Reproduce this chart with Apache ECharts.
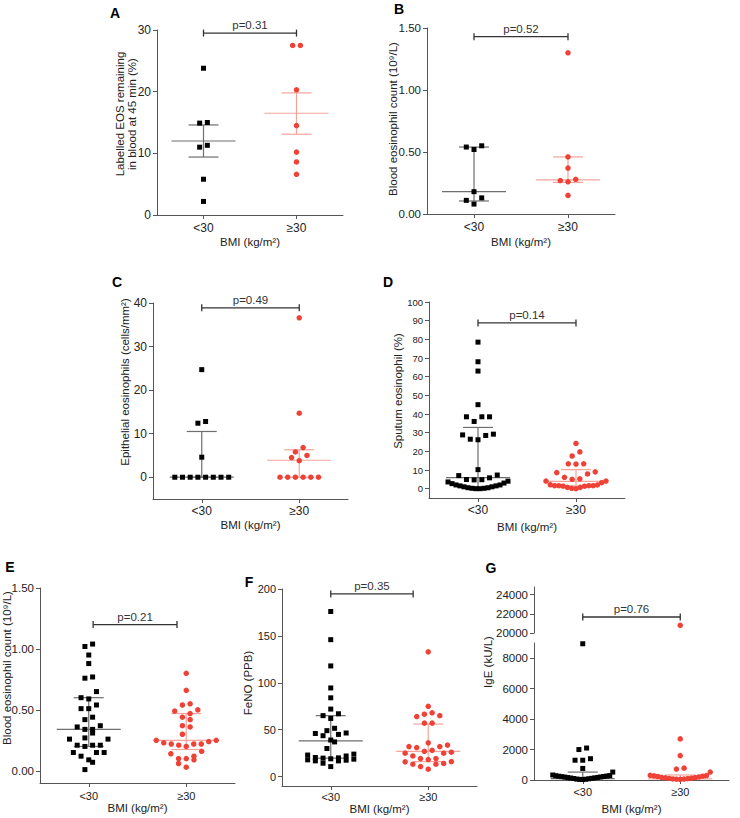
<!DOCTYPE html>
<html><head><meta charset="utf-8">
<script src="https://cdn.jsdelivr.net/npm/echarts@6/dist/echarts.min.js"></script>
<style>html,body{margin:0;padding:0;background:#fff}#c{width:740px;height:818px}</style>
</head><body><div id="c"></div>
<script>
// ---------------- DATA ----------------
const groups = ['<30', '≥30'];
const bmiTitle = 'BMI (kg/m²)';

// A
const aTitle = 'Labelled EOS remaining\nin blood at 45 min (%)';
const aTicks = [0, 10, 20, 30];
const aLow = [23.8, 15.0, 14.9, 11.3, 11.0, 5.8, 2.2];
const aHigh = [27.5, 27.5, 20.3, 14.5, 10.2, 8.6, 6.6];
const aLowStat = [12.0, 9.4, 14.6];      // centre, lower, upper
const aHighStat = [16.5, 13.1, 19.8];
const aP = 'p=0.31';

// B
const bTitle = 'Blood eosinophil count (10⁹/L)';
const bTicks = [0, 0.5, 1.0, 1.5];
const bLow = [0.55, 0.52, 0.54, 0.18, 0.13, 0.08, 0.11];
const bHigh = [1.30, 0.46, 0.37, 0.27, 0.26, 0.28, 0.15];
const bLowStat = [0.18, 0.105, 0.54];
const bHighStat = [0.275, 0.255, 0.46];
const bP = 'p=0.52';

// C
const cTitle = 'Epithelial eosinophils (cells/mm²)';
const cTicks = [0, 10, 20, 30, 40];
const cLow = [24.7, 12.8, 12.4, 4.6, 0, 0, 0, 0, 0, 0, 0, 0];
const cHigh = [36.6, 14.7, 6.8, 5.8, 5.0, 4.5, 3.8, 0, 0, 0, 0, 0, 0];
const cLowStat = [0, 0, 10.5];
const cHighStat = [3.9, 0, 6.3];
const cP = 'p=0.49';

// D
const dTitle = 'Sputum eosinophil (%)';
const dTicks = [0, 10, 20, 30, 40, 50, 60, 70, 80, 90, 100];
const dLow = [78.5, 68, 63, 45, 38.5, 38.5, 38.5, 36, 29.2, 28.8, 28.5, 26.5, 26.2, 10.2,
  7.3, 7.0, 5.8, 4.9, 4.8, 4.7, 4.0, 3.6, 3.0, 2.7, 2.0, 2.0, 1.5, 1.5, 1.0, 1.0, 0.5, 0.5, 0.2, 0.2, 0.0, 0.0];
const dHigh = [24.2, 19.7, 17.5, 13.3, 13.3, 13.2, 9.0, 8.6, 7.9, 6.1, 5.3, 5.0,
  4.1, 4.1, 3.2, 2.1, 2.0, 1.6, 1.6, 1.6, 1.6, 1.3, 1.3, 0.7, 0.7, 0.2, 0.0];
const dLowStat = [5.9, 0.5, 32.8];
const dHighStat = [3.9, 1.5, 10.2];
const dP = 'p=0.14';

// E
const eTitle = 'Blood eosinophil count (10⁹/L)';
const eTicks = [0, 0.5, 1.0, 1.5];
const eLow = [1.04, 1.02, 0.95, 0.88, 0.76, 0.77, 0.65, 0.60, 0.59, 0.54, 0.51, 0.51, 0.44, 0.42,
  0.36, 0.37, 0.34, 0.31, 0.34, 0.26, 0.27, 0.26, 0.21, 0.20, 0.21, 0.21, 0.15, 0.12, 0.09, 0.07, 0.15, 0.15, 0.01];
const eHigh = [0.80, 0.66, 0.54, 0.55, 0.50, 0.47, 0.44, 0.42, 0.49, 0.37, 0.36, 0.30, 0.25, 0.24, 0.22,
  0.22, 0.20, 0.21, 0.22, 0.23, 0.25, 0.14, 0.10, 0.09, 0.10, 0.12, 0.16, 0.03, 0.06];
const eLowStat = [0.34, 0.20, 0.60];
const eHighStat = [0.25, 0.175, 0.47];
const eP = 'p=0.21';

// F
const fTitle = 'FeNO (PPB)';
const fTicks = [0, 50, 100, 150, 200];
const fLow = [176, 146, 118, 94.5, 84, 72, 65, 62, 67, 45, 46.5, 49, 51.5, 43.6, 46, 30, 39, 37,
  23, 18.6, 22, 17.5, 19, 16.8, 19.7, 14.3, 20.4, 16.8, 20, 17.9, 24, 10.7];
const fHigh = [133, 75, 66.5, 64, 65, 68, 57, 57, 32, 31, 36, 32, 33.6, 25, 22, 27, 28, 25, 26,
  15.7, 13.2, 18.2, 19.3, 19.3, 13.2, 16, 7.9, 10.7, 14];
const fLowStat = [38, 19.7, 65];
const fHighStat = [27, 16, 56];
const fP = 'p=0.35';

// G (broken axis)
const gTitle = 'IgE (kU/L)';
const gTopTicks = [20000, 22000, 24000];
const gBottomTicks = [0, 2000, 4000, 6000, 8000];
const gLow = [8950, 2100, 2000, 1400, 1300, 1300, 760, 520, 330, 290, 260, 230, 200, 170, 140, 110,
  80, 50, 30, 40, 60, 100, 130, 160, 190, 220, 250, 280];
const gHigh = [20800, 2700, 1600, 780, 720, 520, 310, 270, 230, 180, 140, 100, 70, 50, 40, 60, 90,
  120, 160, 200, 250, 290];
const gLowStat = [90, 40, 520];
const gHighStat = [80, 40, 330];
const gP = 'p=0.76';

// ---------------- STYLE ----------------
const FONT = "'Liberation Sans', Arial, Helvetica, sans-serif";
const BLACK = '#000000', RED = '#ef4136';
const GREY_BAR = '#6e6e6e', RED_BAR = '#f6a39c';
const AXIS = '#555555', TXT = '#222222';
const STEP = 7.7, MAXW = 60, MEAN_HW = 32, CAP_HW = 15;

// ---------------- LAYOUT ----------------
const panels = [
  {key:'A', yTitle:aTitle, ticks:aTicks, low:aLow, high:aHigh, lowStat:aLowStat, highStat:aHighStat, p:aP,
   grid:{left:157, top:30, width:186, height:185}, yMin:0, yMax:30, dec:0, tickFont:12, catFont:12,
   catMargin:7, nameGap:21, bracket:[1, 3, 29.5], letter:[115, 13], title:[126, 114]},
  {key:'B', yTitle:bTitle, ticks:bTicks, low:bLow, high:bHigh, lowStat:bLowStat, highStat:bHighStat, p:bP,
   grid:{left:427, top:28, width:188, height:186}, yMin:0, yMax:1.5, dec:2, tickFont:11.5, catFont:12,
   catMargin:7, nameGap:22, bracket:[1, 3, 1.43], letter:[399, 9], title:[393, 119]},
  {key:'C', yTitle:cTitle, ticks:cTicks, low:cLow, high:cHigh, lowStat:cLowStat, highStat:cHighStat, p:cP,
   grid:{left:153, top:303, width:195, height:196}, yMin:-5, yMax:40, dec:0, tickFont:12, catFont:12,
   catMargin:6, nameGap:20, bracket:[1, 3, 38.9], letter:[117, 282], title:[125, 382]},
  {key:'D', yTitle:dTitle, ticks:dTicks, low:dLow, high:dHigh, lowStat:dLowStat, highStat:dHighStat, p:dP,
   grid:{left:429, top:302, width:196, height:196}, yMin:-5, yMax:100, dec:0, tickFont:9.5, catFont:12,
   catMargin:6, nameGap:23, bracket:[1, 3, 88.8], letter:[388, 282], title:[398, 391]},
  {key:'E', yTitle:eTitle, ticks:eTicks, low:eLow, high:eHigh, lowStat:eLowStat, highStat:eHighStat, p:eP,
   grid:{left:40, top:588, width:195, height:195}, yMin:-0.1, yMax:1.5, dec:2, tickFont:11.5, catFont:11,
   catMargin:7, nameGap:19, bracket:[1.09, 2.81, 1.20], letter:[10, 567], title:[7, 668]},
  {key:'F', yTitle:fTitle, ticks:fTicks, low:fLow, high:fHigh, lowStat:fLowStat, highStat:fHighStat, p:fP,
   grid:{left:282, top:589, width:195, height:197}, yMin:-10, yMax:200, dec:0, tickFont:11, catFont:11,
   catMargin:5, nameGap:15.5, bracket:[1, 2.69, 194.7], letter:[249, 582], title:[248, 683]}
];
const gPanel = {key:'G', yTitle:gTitle, low:gLow, high:gHigh, lowStat:gLowStat, highStat:gHighStat, p:gP,
  top:{grid:{left:534, top:587, width:195, height:46}, yMin:20000, yMax:24800, ticks:gTopTicks},
  bottom:{grid:{left:534, top:643, width:195, height:137}, yMin:0, yMax:9000, ticks:gBottomTicks},
  split:15000, tickFont:11.5, catFont:11, catMargin:6, nameGap:22.5, bracket:[1, 3, 21670],
  letter:[491, 568], title:[488, 662]};

// ---------------- BUILD ----------------
function swarm(values, pxPerY, pxPerX) {
  const rowH = STEP / pxPerY;
  const sorted = values.slice().sort((a, b) => a - b);
  const rows = []; let cur = null;
  for (const v of sorted) {
    if (!cur || v - cur[0] >= rowH) { cur = [v]; rows.push(cur); } else cur.push(v);
  }
  const out = [];
  rows.forEach(r => {
    const n = r.length;
    const s = n > 1 ? Math.min(STEP, MAXW / (n - 1)) : STEP;
    r.forEach((v, i) => {
      let k;
      if (n % 2 === 1) k = i === 0 ? 0 : (i % 2 === 1 ? -Math.ceil(i / 2) : Math.ceil(i / 2));
      else { const j = Math.floor(i / 2); k = i % 2 === 0 ? -(j + 0.5) : (j + 0.5); }
      out.push([k * s / pxPerX, v]);
    });
  });
  return out;
}

const grids = [], xAxes = [], yAxes = [], series = [], graphics = [];
const txt = (size, extra) => Object.assign({color: TXT, fontSize: size, fontFamily: FONT}, extra || {});

function addGrid(grid, yMin, yMax, ticks, dec, tickFont, xOpt) {
  const i = grids.length;
  grids.push(Object.assign({containLabel: false}, grid));
  xAxes.push(Object.assign({
    gridIndex: i, type: 'value', min: 0, max: 4,
    axisLine: {show: true, onZero: false, lineStyle: {color: AXIS, width: 1}},
    axisTick: {show: true, length: 4, customValues: [1, 3], lineStyle: {color: AXIS}},
    axisLabel: {show: true, customValues: [1, 3], formatter: v => groups[v < 2 ? 0 : 1]},
    splitLine: {show: false}
  }, xOpt));
  yAxes.push({
    gridIndex: i, type: 'value', min: yMin, max: yMax,
    axisLine: {show: true, onZero: false, lineStyle: {color: AXIS, width: 1}},
    axisTick: {show: true, length: 4, customValues: ticks, lineStyle: {color: AXIS}},
    axisLabel: Object.assign({customValues: ticks, margin: 6, formatter: v => (+v).toFixed(dec)}, txt(tickFont)),
    splitLine: {show: false}
  });
  return i;
}

function xOptFor(p) {
  return {
    axisLabel: Object.assign({show: true, customValues: [1, 3], formatter: v => groups[v < 2 ? 0 : 1], margin: p.catMargin}, txt(p.catFont)),
    name: bmiTitle, nameLocation: 'middle', nameGap: p.nameGap, nameTextStyle: txt(11.5)
  };
}

function addPoints(idx, vals, center, grid, yMin, yMax, isHigh) {
  const pxY = grid.height / (yMax - yMin), pxX = grid.width / 4;
  const pts = swarm(vals, pxY, pxX).map(([dx, v]) => [center + dx, v]);
  series.push({
    type: 'scatter', xAxisIndex: idx, yAxisIndex: idx, data: pts, silent: true, z: 4,
    symbol: isHigh ? 'circle' : 'rect', symbolSize: isHigh ? 5.5 : 5,
    itemStyle: {color: isHigh ? RED : BLACK, opacity: 1}
  });
}

function addStats(idx, stat, center, color) {
  series.push({
    type: 'custom', xAxisIndex: idx, yAxisIndex: idx, silent: true, z: 2,
    data: [[center, stat[0], stat[1], stat[2]]],
    renderItem: (params, api) => {
      const xc = api.value(0);
      const pm = api.coord([xc, api.value(1)]);
      const pl = api.coord([xc, api.value(2)]);
      const ph = api.coord([xc, api.value(3)]);
      const st = {stroke: color, lineWidth: 1.2};
      return {type: 'group', children: [
        {type: 'line', shape: {x1: pm[0] - MEAN_HW, y1: pm[1], x2: pm[0] + MEAN_HW, y2: pm[1]}, style: st},
        {type: 'line', shape: {x1: pl[0], y1: pl[1], x2: ph[0], y2: ph[1]}, style: st},
        {type: 'line', shape: {x1: pl[0] - CAP_HW, y1: pl[1], x2: pl[0] + CAP_HW, y2: pl[1]}, style: st},
        {type: 'line', shape: {x1: ph[0] - CAP_HW, y1: ph[1], x2: ph[0] + CAP_HW, y2: ph[1]}, style: st}
      ]};
    }
  });
}

function addBracket(idx, br, label) {
  series.push({
    type: 'custom', xAxisIndex: idx, yAxisIndex: idx, silent: true, z: 3,
    data: [br],
    renderItem: (params, api) => {
      const p1 = api.coord([api.value(0), api.value(2)]);
      const p2 = api.coord([api.value(1), api.value(2)]);
      const st = {stroke: '#333', lineWidth: 1.3};
      return {type: 'group', children: [
        {type: 'line', shape: {x1: p1[0], y1: p1[1], x2: p2[0], y2: p2[1]}, style: st},
        {type: 'line', shape: {x1: p1[0], y1: p1[1] - 3.5, x2: p1[0], y2: p1[1] + 3.5}, style: st},
        {type: 'line', shape: {x1: p2[0], y1: p2[1] - 3.5, x2: p2[0], y2: p2[1] + 3.5}, style: st},
        {type: 'text', x: (p1[0] + p2[0]) / 2, y: p1[1] - 2,
         style: {text: label, align: 'center', verticalAlign: 'bottom', fill: '#333', fontSize: 11.5, fontFamily: FONT}}
      ]};
    }
  });
}

function addTexts(p) {
  graphics.push({type: 'text', x: p.letter[0], y: p.letter[1], silent: true,
    style: {text: p.key, align: 'center', verticalAlign: 'middle', fill: '#000', fontSize: 14, fontWeight: 'bold', fontFamily: FONT}});
  graphics.push({type: 'text', x: p.title[0], y: p.title[1], rotation: Math.PI / 2, silent: true,
    style: {text: p.yTitle, align: 'center', verticalAlign: 'middle', fill: TXT, fontSize: 11.5, lineHeight: 12.5, fontFamily: FONT}});
}

panels.forEach(p => {
  const idx = addGrid(p.grid, p.yMin, p.yMax, p.ticks, p.dec, p.tickFont, xOptFor(p));
  addStats(idx, p.lowStat, 1, GREY_BAR);
  addStats(idx, p.highStat, 3, RED_BAR);
  addPoints(idx, p.low, 1, p.grid, p.yMin, p.yMax, false);
  addPoints(idx, p.high, 3, p.grid, p.yMin, p.yMax, true);
  addBracket(idx, p.bracket, p.p);
  addTexts(p);
});

// G: broken axis drawn as two stacked grids
(function () {
  const g = gPanel;
  const tIdx = addGrid(g.top.grid, g.top.yMin, g.top.yMax, g.top.ticks, 0, g.tickFont, {show: false});
  const bIdx = addGrid(g.bottom.grid, g.bottom.yMin, g.bottom.yMax, g.bottom.ticks, 0, g.tickFont, xOptFor(g));
  addStats(bIdx, g.lowStat, 1, GREY_BAR);
  addStats(bIdx, g.highStat, 3, RED_BAR);
  [[g.low, 1, false], [g.high, 3, true]].forEach(([vals, c, hi]) => {
    addPoints(bIdx, vals.filter(v => v < g.split), c, g.bottom.grid, g.bottom.yMin, g.bottom.yMax, hi);
    const tv = vals.filter(v => v >= g.split);
    if (tv.length) addPoints(tIdx, tv, c, g.top.grid, g.top.yMin, g.top.yMax, hi);
  });
  addBracket(tIdx, g.bracket, g.p);
  addTexts(g);
})();

const chart = echarts.init(document.getElementById('c'), null, {renderer: 'svg'});
chart.setOption({
  animation: false,
  backgroundColor: '#ffffff',
  textStyle: {fontFamily: FONT},
  grid: grids, xAxis: xAxes, yAxis: yAxes, series: series, graphic: graphics
});
</script>
</body></html>
